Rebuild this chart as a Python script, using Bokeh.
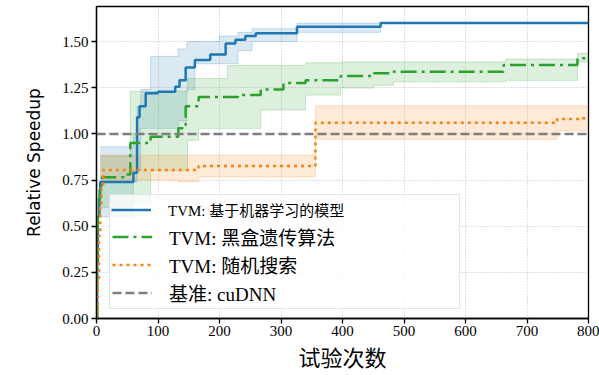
from bokeh.plotting import figure
from bokeh.models import Legend, LegendItem, Range1d, FixedTicker, PrintfTickFormatter
from bokeh.core.properties import value
from bokeh.embed import file_html
from bokeh.resources import INLINE

# ---------------- data ----------------
x_ticks = [0, 100, 200, 300, 400, 500, 600, 700, 800]
y_ticks = [0.0, 0.25, 0.5, 0.75, 1.0, 1.25, 1.5]
x_max = 800

# TVM: ML-based model (blue)
ml_x = [0, 1, 2, 4, 6, 60, 66, 70, 80, 100, 128, 135, 145, 160, 185, 210, 226, 242, 259, 326, 462, 800]
ml_y = [0.0, 0.3, 0.55, 0.65, 0.74, 0.79, 1.09, 1.15, 1.22, 1.228, 1.255, 1.29, 1.36, 1.40, 1.43, 1.49, 1.51, 1.53, 1.545, 1.58, 1.60, 1.60]
ml_band_x = [6, 55, 60, 66, 72, 88, 133, 147, 160, 200, 230, 253, 326, 462]
ml_band_hi = [0.93, 0.93, 1.00, 1.15, 1.24, 1.42, 1.46, 1.50, 1.50, 1.53, 1.55, 1.57, 1.60, 1.60]
ml_band_lo = [0.55, 0.55, 0.74, 0.80, 1.03, 1.03, 1.07, 1.24, 1.38, 1.38, 1.45, 1.50, 1.55, 1.60]

# TVM: black-box genetic algorithm (green)
ga_x = [0, 1, 2, 5, 9, 44, 55, 88, 133, 145, 166, 230, 267, 304, 340, 397, 451, 483, 662, 782, 800]
ga_y = [0.0, 0.3, 0.55, 0.72, 0.765, 0.78, 0.95, 0.985, 1.03, 1.15, 1.20, 1.21, 1.24, 1.275, 1.29, 1.313, 1.328, 1.337, 1.373, 1.41, 1.41]
ga_band_x = [6, 55, 88, 148, 166, 213, 267, 340, 397, 451, 483, 665, 782, 800]
ga_band_hi = [0.88, 1.23, 1.23, 1.30, 1.30, 1.37, 1.37, 1.385, 1.39, 1.39, 1.39, 1.405, 1.436, 1.436]
ga_band_lo = [0.60, 0.62, 0.80, 0.965, 1.03, 1.03, 1.13, 1.21, 1.248, 1.264, 1.282, 1.29, 1.39, 1.39]

# TVM: random search (orange)
rs_x = [0, 2, 4, 6, 8, 11, 166, 356, 749, 787, 800]
rs_y = [0.0, 0.2, 0.45, 0.6, 0.72, 0.805, 0.826, 1.06, 1.08, 1.085, 1.085]
rs_band_x = [6, 133, 166, 356, 749, 800]
rs_band_hi = [0.885, 0.885, 0.885, 1.152, 1.152, 1.152]
rs_band_lo = [0.75, 0.74, 0.767, 0.97, 1.016, 1.016]

# baseline: cuDNN
cudnn_speedup = 1.0

labels = ["TVM: 基于机器学习的模型", "TVM: 黑盒遗传算法", "TVM: 随机搜索", "基准: cuDNN"]

BLUE, GREEN, ORANGE, GRAY = "#1f77b4", "#2ca02c", "#ff7f0e", "#7f7f7f"
SERIF = "Liberation Serif, Noto Sans CJK SC"

p = figure(width=599, height=375, output_backend="svg", toolbar_location=None,
           x_range=Range1d(0, x_max), y_range=Range1d(0, 1.69),
           min_border_left=96, min_border_right=11, min_border_top=6, min_border_bottom=57)
p.background_fill_color = "white"
p.border_fill_color = "white"
p.outline_line_color = "black"
p.outline_line_width = 1.3

# bands
for bx, lo, hi, c in [(ml_band_x, ml_band_lo, ml_band_hi, BLUE),
                      (ga_band_x, ga_band_lo, ga_band_hi, GREEN),
                      (rs_band_x, rs_band_lo, rs_band_hi, ORANGE)]:
    p.varea_step(x=bx, y1=lo, y2=hi, step_mode="after", fill_color=c, fill_alpha=0.16)
    p.step(bx, hi, mode="after", line_color=c, line_alpha=0.22, line_width=1)
    p.step(bx, lo, mode="after", line_color=c, line_alpha=0.22, line_width=1)

r_ml = p.step(ml_x, ml_y, mode="after", line_color=BLUE, line_width=2.5)
r_ga = p.step(ga_x, ga_y, mode="after", line_color=GREEN, line_width=2.5, line_dash="16 5 3 5")
r_rs = p.step(rs_x, rs_y, mode="after", line_color=ORANGE, line_width=2.5, line_dash="3 4")
r_base = p.line([x_ticks[0], x_max], [cudnn_speedup, cudnn_speedup], line_color=GRAY,
                line_width=2.5, line_dash="9 4")
# invisible placeholder for the first legend row of the boxed legend
r_blank = p.line([], [], line_alpha=0)

# axes
p.xaxis.ticker = FixedTicker(ticks=x_ticks)
p.yaxis.ticker = FixedTicker(ticks=y_ticks)
p.yaxis.formatter = PrintfTickFormatter(format="%.2f")
for ax in (p.xaxis[0], p.yaxis[0]):
    ax.axis_line_color = "black"
    ax.axis_line_width = 1.3
    ax.major_tick_line_color = "black"
    ax.major_tick_line_width = 1.3
    ax.major_tick_out = 5
    ax.major_tick_in = 0
    ax.minor_tick_line_color = None
    ax.major_label_text_font = SERIF
    ax.major_label_text_font_size = "15px"
    ax.major_label_text_color = "black"
    ax.major_label_standoff = 3
    ax.axis_label_text_font_style = "normal"
    ax.axis_label_text_color = "black"

p.xaxis.major_label_standoff = 2
p.xaxis.axis_label = "试验次数"
p.xaxis.axis_label_text_font = "Noto Sans CJK SC"
p.xaxis.axis_label_text_font_size = "22px"
p.xaxis.axis_label_standoff = 1
p.yaxis.axis_label = "Relative Speedup"
p.yaxis.axis_label_text_font = "DejaVu Sans"
p.yaxis.axis_label_text_font_size = "17px"
p.yaxis.axis_label_standoff = 15

p.grid.grid_line_color = "#b0b0b0"
p.grid.grid_line_dash = "1 2"
p.grid.grid_line_width = 0.8

common = dict(label_text_font=SERIF, glyph_width=40, glyph_height=25, label_height=25,
              label_standoff=17, padding=2, margin=0, label_text_color="black")

legend_b = Legend(items=[LegendItem(label=value("\u00a0"), renderers=[r_blank]),
                         LegendItem(label=value(labels[1]), renderers=[r_ga]),
                         LegendItem(label=value(labels[2]), renderers=[r_rs]),
                         LegendItem(label=value(labels[3]), renderers=[r_base])],
                  location=(13, 9), label_text_font_size="19px", label_width=288, spacing=1,
                  border_line_color="#c8c8c8", border_line_width=1.2,
                  background_fill_color="white", background_fill_alpha=0.8, **common)
legend_a = Legend(items=[LegendItem(label=value(labels[0]), renderers=[r_ml])],
                  location=(13, 94), label_text_font_size="15px", spacing=1,
                  border_line_alpha=0, background_fill_alpha=0, **common)
p.add_layout(legend_b)
p.add_layout(legend_a)

open("out.html", "w").write(file_html(p, INLINE))
